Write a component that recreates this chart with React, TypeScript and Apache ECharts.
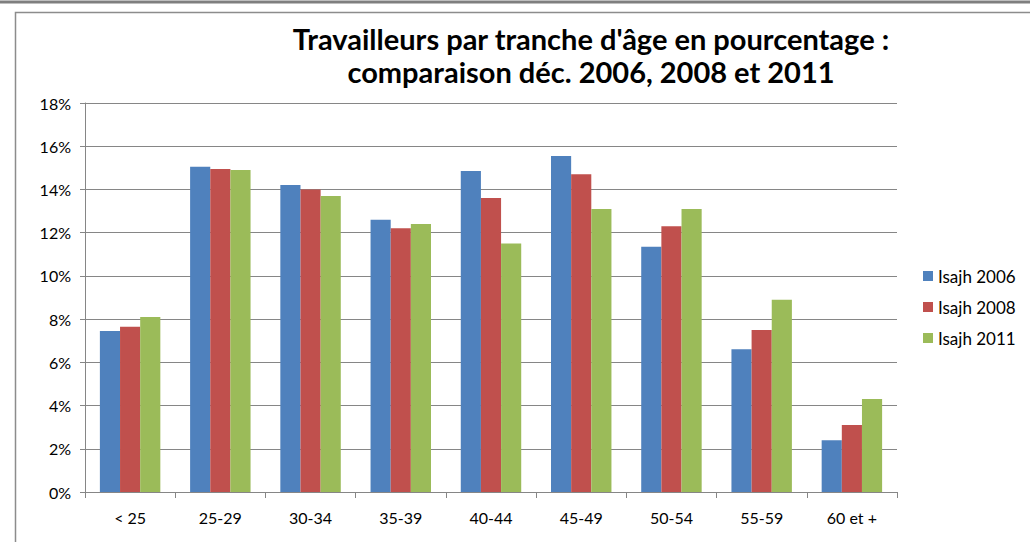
import React, { useEffect, useRef } from "react";
import * as echarts from "echarts";

const categories = ["< 25", "25-29", "30-34", "35-39", "40-44", "45-49", "50-54", "55-59", "60 et +"];
const seriesNames = ["Isajh 2006", "Isajh 2008", "Isajh 2011"];
const values2006 = [7.45, 15.05, 14.2, 12.6, 14.85, 15.55, 11.35, 6.6, 2.4];
const values2008 = [7.65, 14.95, 14.0, 12.2, 13.6, 14.7, 12.3, 7.5, 3.1];
const values2011 = [8.1, 14.9, 13.7, 12.4, 11.5, 13.1, 13.1, 8.9, 4.3];
const colors = ["#4F81BD", "#C0504D", "#9BBB59"];
const titleLines = ["Travailleurs par tranche d'âge en pourcentage :", "comparaison déc. 2006, 2008 et 2011"];

export default function App() {
  const ref = useRef<HTMLDivElement>(null);
  useEffect(() => {
    document.body.style.margin = "0";
    const chart = echarts.init(ref.current!, null, { renderer: "svg" });
    const data = [values2006, values2008, values2011];
    chart.setOption({
      animation: false,
      backgroundColor: "#ffffff",
      textStyle: { fontFamily: "Lato" },
      title: {
        text: titleLines.join("\n"),
        left: 591,
        textAlign: "center",
        top: 22,
        padding: 0,
        textStyle: { fontFamily: "Lato", fontWeight: "bold", fontSize: 29, color: "#000", lineHeight: 33 },
      },
      graphic: [
        { type: "line", shape: { x1: 0, y1: 2, x2: 1030, y2: 2 }, style: { stroke: "#7f7f7f", lineWidth: 3 } },
        { type: "rect", shape: { x: 15.5, y: 12.5, width: 1030, height: 540 }, style: { fill: "none", stroke: "#8c8c8c", lineWidth: 1.5 } },
      ],
      legend: {
        orient: "vertical",
        left: 918,
        top: 261,
        itemWidth: 10,
        itemHeight: 10,
        itemGap: 11,
        icon: "rect",
        textStyle: { fontFamily: "Lato", fontSize: 17, color: "#000", lineHeight: 20 },
        data: seriesNames,
      },
      grid: { left: 85, top: 103, right: 133, bottom: 50 },
      xAxis: {
        type: "category",
        data: categories,
        axisLine: { lineStyle: { color: "#868686" } },
        axisTick: { show: true, length: 6, lineStyle: { color: "#868686" } },
        axisLabel: { fontFamily: "Lato", fontSize: 16, color: "#000", margin: 17 },
      },
      yAxis: {
        type: "value",
        min: 0,
        max: 18,
        interval: 2,
        axisLine: { show: true, lineStyle: { color: "#868686" } },
        axisTick: { show: true, length: 5, lineStyle: { color: "#868686" } },
        splitLine: { lineStyle: { color: "#868686" } },
        axisLabel: { fontFamily: "Lato", fontSize: 16, color: "#000", margin: 14, formatter: (v: number) => v + "%" },
      },
      series: seriesNames.map((name, i) => ({
        name,
        type: "bar",
        data: data[i],
        itemStyle: { color: colors[i] },
        barGap: "0%",
        barCategoryGap: "33%",
      })),
    });
    return () => chart.dispose();
  }, []);
  return <div ref={ref} style={{ width: 1030, height: 542 }} />;
}
